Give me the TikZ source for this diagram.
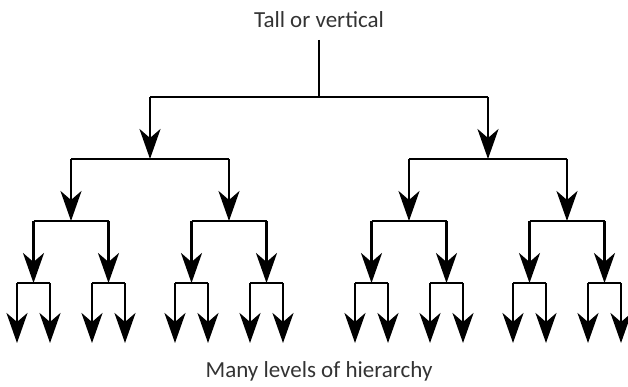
\documentclass[tikz,border=0pt]{standalone}
\usepackage{fontspec}
\setmainfont{Carlito}
\usetikzlibrary{arrows.meta}
\definecolor{labelgray}{HTML}{333333}
\tikzset{
  link/.style={line width=2.8pt, black},
  down/.style={link, -{Stealth[length=30pt, width=21pt, inset=9pt]}},
  caption/.style={anchor=base, inner sep=0pt, text=labelgray,
    font=\fontsize{23}{27}\selectfont},
}
\begin{document}
\begin{tikzpicture}[x=1pt, y=-1pt]
  \useasboundingbox (0,0) rectangle (628,387);

  % labels
  \node[caption] (title) at (319,28) {Tall or vertical};
  \node[caption] (footer) at (319,377) {Many levels of hierarchy};

  % junction points of the binary tree, one level at a time
  \coordinate (top) at (319,40);
  \coordinate (n) at (319,97);
  \foreach \p in {n} {
    \path (\p) ++(-169,62) coordinate (\p0);
    \path (\p) ++( 169,62) coordinate (\p1);
  }
  \foreach \p in {n0,n1} {
    \path (\p) ++(-79,62) coordinate (\p0);
    \path (\p) ++( 79,62) coordinate (\p1);
  }
  \foreach \p in {n00,n01,n10,n11} {
    \path (\p) ++(-37.5,62) coordinate (\p0);
    \path (\p) ++( 37.5,62) coordinate (\p1);
  }
  \foreach \p in {n000,n001,n010,n011,n100,n101,n110,n111} {
    \path (\p) ++(-16.5,60) coordinate (\p0);
    \path (\p) ++( 16.5,60) coordinate (\p1);
  }

  % stem from the top
  \draw[link] (top) -- (n);

  % bars and arrows down to the children
  \foreach \p in {n,n0,n1,n00,n01,n10,n11,
                  n000,n001,n010,n011,n100,n101,n110,n111} {
    \draw[link] (\p0 |- \p) -- (\p1 |- \p);
    \draw[down] (\p0 |- \p) -- (\p0);
    \draw[down] (\p1 |- \p) -- (\p1);
  }
\end{tikzpicture}
\end{document}
